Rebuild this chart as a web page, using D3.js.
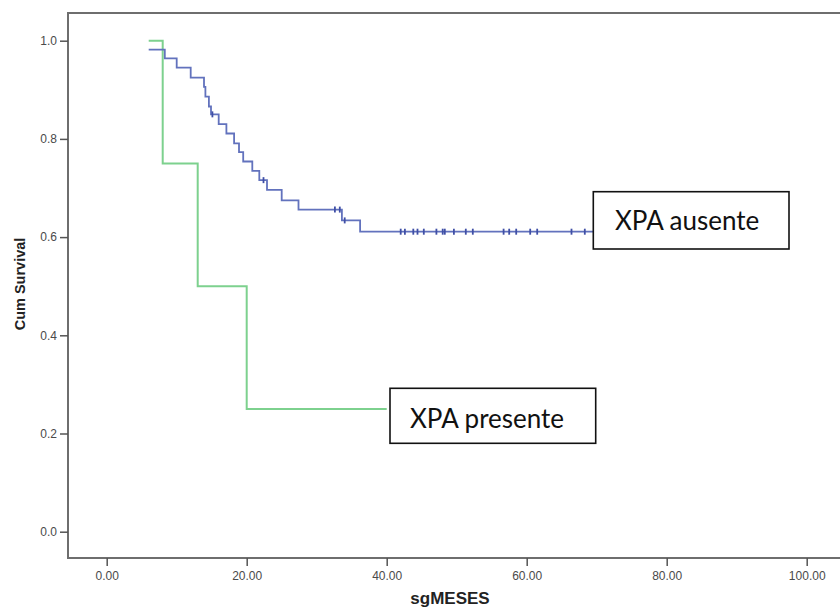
<!DOCTYPE html>
<html lang="es">
<head>
<meta charset="UTF-8">
<title>Kaplan-Meier XPA</title>
<style>
  body { margin: 0; background: #fff; }
  text { font-family: "Liberation Sans", Arial, sans-serif; }
</style>
</head>
<body>
<div id="chart"></div>
<script src="https://cdn.jsdelivr.net/npm/d3@7"></script>
<script>
// XPA ausente (blue): event times and survival after each event
var ausenteTimes = [6, 8.3, 10, 12, 13.9, 14.1, 14.6, 14.9, 16.0, 17.1, 18.2, 18.9, 19.5, 20.8, 21.8, 22.9, 25.0, 27.4, 33.6, 36.2];
var ausenteSurv = [0.982, 0.964, 0.945, 0.925, 0.906, 0.886, 0.866, 0.850, 0.830, 0.811, 0.791, 0.773, 0.754, 0.735, 0.716, 0.696, 0.675, 0.656, 0.634, 0.611];
var ausenteCensored = [15.1, 22.4, 32.6, 33.3, 34.0, 42.0, 42.6, 43.8, 44.4, 45.3, 47.1, 48.0, 48.3, 49.6, 51.3, 52.3, 56.7, 57.5, 58.5, 60.5, 61.5, 66.4, 68.3];
var ausenteEnd = 69.5;

// XPA presente (green)
var presenteTimes = [6, 8, 13, 20];
var presenteSurv = [1.0, 0.75, 0.5, 0.25];
var presenteEnd = 40;

var xTicks = [0, 20, 40, 60, 80, 100];
var yTicks = [0, 0.2, 0.4, 0.6, 0.8, 1.0];

var W = 840, H = 612;
var frame = { left: 68, top: 13, bottom: 558 };

var x = d3.scaleLinear().domain([0, 100]).range([106.7, 806.7]);
var y = d3.scaleLinear().domain([0, 1]).range([531.7, 40.7]);

var svg = d3.select('#chart').append('svg')
  .attr('width', W).attr('height', H);

// frame (right side is cut off in the original)
svg.append('path')
  .attr('d', `M${W + 5},${frame.top}H${frame.left}V${frame.bottom}H${W + 5}`)
  .attr('fill', 'none')
  .attr('stroke', '#6e6e6e')
  .attr('stroke-width', 2);

var yAxis = svg.append('g')
  .attr('transform', `translate(${frame.left},0)`)
  .call(d3.axisLeft(y).tickValues(yTicks).tickFormat(d3.format('.1f')).tickSize(8).tickPadding(3));
yAxis.select('.domain').remove();

var xAxis = svg.append('g')
  .attr('transform', `translate(0,${frame.bottom})`)
  .call(d3.axisBottom(x).tickValues(xTicks).tickFormat(d3.format('.2f')).tickSize(8).tickPadding(5));
xAxis.select('.domain').remove();

svg.selectAll('.tick line').attr('stroke', '#555').attr('stroke-width', 1.5);
svg.selectAll('.tick text')
  .attr('fill', '#4a4a4a')
  .style('font-family', '"Liberation Sans", Arial, sans-serif')
  .style('font-size', '12px');

svg.append('text')
  .attr('transform', 'translate(25,284) rotate(-90)')
  .attr('text-anchor', 'middle')
  .style('font-size', '14.5px')
  .style('font-weight', 'bold')
  .attr('fill', '#222')
  .text('Cum Survival');

svg.append('text')
  .attr('x', 450).attr('y', 604)
  .attr('text-anchor', 'middle')
  .style('font-size', '17px')
  .style('font-weight', 'bold')
  .attr('fill', '#222')
  .text('sgMESES');

var step = d3.line()
  .x(d => x(d[0]))
  .y(d => y(d[1]))
  .curve(d3.curveStepAfter);

function survAt(times, surv, t) {
  var s = surv[0];
  times.forEach((tt, i) => { if (tt <= t) s = surv[i]; });
  return s;
}

var presentePts = presenteTimes.map((t, i) => [t, presenteSurv[i]]);
presentePts.push([presenteEnd, presenteSurv[presenteSurv.length - 1]]);
svg.append('path')
  .datum(presentePts)
  .attr('d', step)
  .attr('fill', 'none')
  .attr('stroke', '#7dd18e')
  .attr('stroke-width', 2);

var ausentePts = ausenteTimes.map((t, i) => [t, ausenteSurv[i]]);
ausentePts.push([ausenteEnd, ausenteSurv[ausenteSurv.length - 1]]);
svg.append('path')
  .datum(ausentePts)
  .attr('d', step)
  .attr('fill', 'none')
  .attr('stroke', '#6272bd')
  .attr('stroke-width', 1.8);

svg.selectAll('.censor')
  .data(ausenteCensored)
  .enter().append('line')
  .attr('class', 'censor')
  .attr('x1', d => x(d)).attr('x2', d => x(d))
  .attr('y1', d => y(survAt(ausenteTimes, ausenteSurv, d)) - 3)
  .attr('y2', d => y(survAt(ausenteTimes, ausenteSurv, d)) + 3)
  .attr('stroke', '#3f4fa6')
  .attr('stroke-width', 1.8);

// label boxes
var labels = [
  { text: 'XPA ausente', x: 593.3, y: 191.7, w: 195.7, h: 57.3, tx: 615, ty: 230 },
  { text: 'XPA presente', x: 390, y: 388.3, w: 205.7, h: 55, tx: 410, ty: 428.3 }
];
var lg = svg.selectAll('.lbl').data(labels).enter().append('g').attr('class', 'lbl');
lg.append('rect')
  .attr('x', d => d.x).attr('y', d => d.y)
  .attr('width', d => d.w).attr('height', d => d.h)
  .attr('fill', '#fff').attr('stroke', '#111').attr('stroke-width', 1.6);
lg.append('text')
  .attr('x', d => d.tx).attr('y', d => d.ty)
  .style('font-family', 'Lato, "Open Sans", sans-serif')
  .style('font-size', '26px')
  .attr('fill', '#111')
  .text(d => d.text);
</script>
</body>
</html>
